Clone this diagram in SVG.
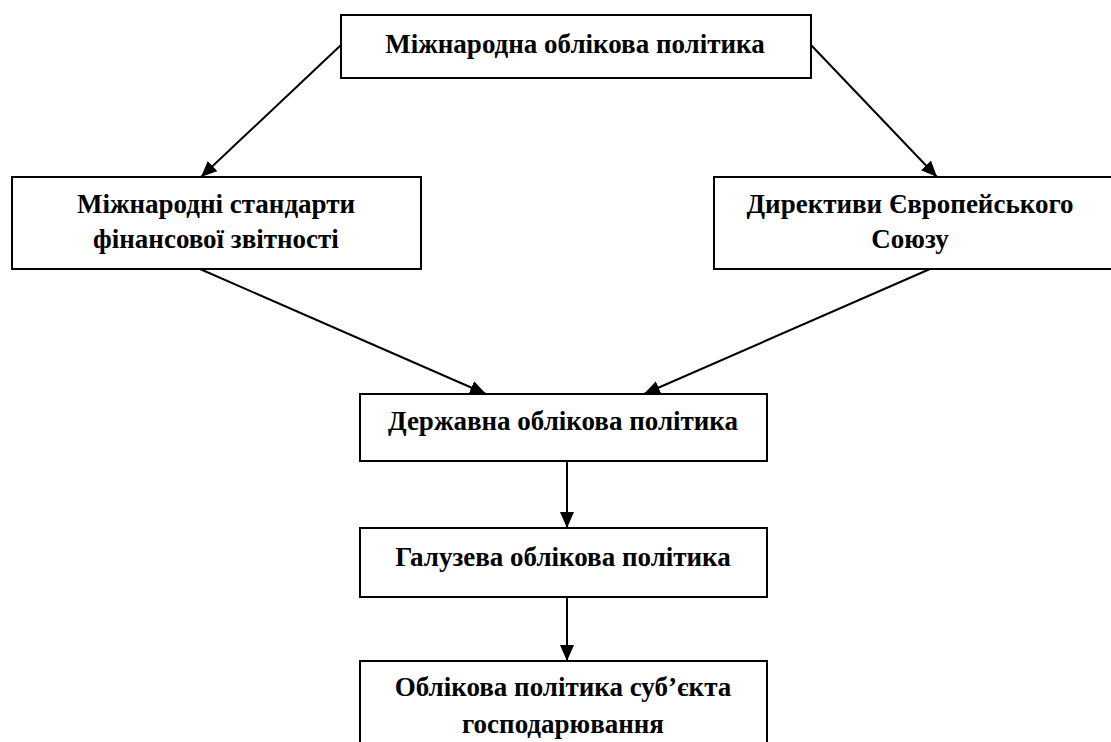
<svg xmlns="http://www.w3.org/2000/svg" width="1111" height="742" viewBox="0 0 1111 742">
<style>
.box{fill:#fff;stroke:#000;stroke-width:2}
.t{font-family:"Liberation Serif","Times New Roman",serif;font-weight:bold;font-size:27px;fill:#000;text-anchor:middle}
.c{stroke:#000;stroke-width:2;fill:none;marker-end:url(#ah)}
</style>
<defs>
<marker id="ah" viewBox="0 0 16 14" refX="16" refY="7" markerWidth="16" markerHeight="14" markerUnits="userSpaceOnUse" orient="auto">
<path d="M0,0 L16,7 L0,14 Z" fill="#000"/>
</marker>
</defs>
<rect width="1111" height="742" fill="#fff"/>
<g id="n1"><rect class="box" x="341" y="15" width="470" height="63"/><text class="t" x="575" y="53">Міжнародна облікова політика</text></g>
<g id="n2"><rect class="box" x="12" y="177" width="409" height="92"/><text class="t" x="216" y="213">Міжнародні стандарти</text><text class="t" x="216" y="248">фінансової звітності</text></g>
<g id="n3"><rect class="box" x="714" y="177" width="410" height="92"/><text class="t" x="910" y="213">Директиви Європейського</text><text class="t" x="910" y="248">Союзу</text></g>
<g id="n4"><rect class="box" x="360" y="394" width="407" height="67"/><text class="t" x="563" y="430">Державна облікова політика</text></g>
<g id="n5"><rect class="box" x="360" y="528" width="407" height="69"/><text class="t" x="563" y="566">Галузева облікова політика</text></g>
<g id="n6"><rect class="box" x="360" y="661" width="407" height="100"/><text class="t" x="563" y="696">Облікова політика суб’єкта</text><text class="t" x="563" y="733">господарювання</text></g>
<g id="connectors">
<line class="c" x1="341" y1="45" x2="201" y2="177"/>
<line class="c" x1="811" y1="45" x2="937" y2="177"/>
<line class="c" x1="200" y1="269" x2="486" y2="394"/>
<line class="c" x1="930" y1="269" x2="644" y2="394"/>
<line class="c" x1="567" y1="461" x2="567" y2="528"/>
<line class="c" x1="567" y1="597" x2="567" y2="661"/>
</g>
</svg>
